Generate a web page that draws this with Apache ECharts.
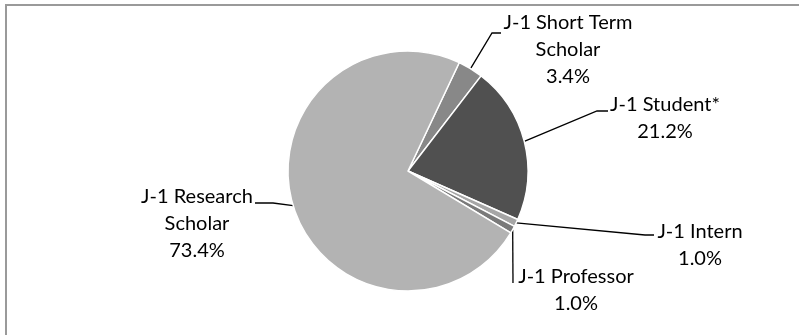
<!DOCTYPE html>
<html>
<head>
<meta charset="utf-8">
<title>J-1 Categories</title>
<script src="https://cdn.jsdelivr.net/npm/echarts@6/dist/echarts.min.js"></script>
<style>
  html, body { margin: 0; padding: 0; background: #ffffff; }
  #chart { width: 799px; height: 335px; }
</style>
</head>
<body>
<div id="chart"></div>
<script>
// Exchange visitor categories and their share of the total (percent)
const categories = [
  'J-1 Short Term\nScholar',
  'J-1 Student*',
  'J-1 Intern',
  'J-1 Professor',
  'J-1 Research\nScholar'
];
const shares = [3.4, 21.2, 1.0, 1.0, 73.4];
const sliceColors = ['#888888', '#505050', '#a6a6a6', '#7a7a7a', '#b3b3b3'];

// Label placement: centre of each text block, plus leader elbow and end point
const labelLayoutSpec = [
  { x: 568, y: 50,    elbow: [492, 33],  end: [501, 33] },
  { x: 665, y: 118.5, elbow: [597, 111], end: [608, 111] },
  { x: 700, y: 245,   elbow: [645, 235], end: [654, 235] },
  { x: 576, y: 290,   elbow: [513, 283], end: [513, 283] },
  { x: 197, y: 224,   elbow: [273, 203], end: [255, 203] }
];

const chart = echarts.init(document.getElementById('chart'), null, { renderer: 'canvas' });

chart.setOption({
  backgroundColor: '#ffffff',
  animation: false,
  graphic: [{
    type: 'rect',
    shape: { x: 6, y: 5, width: 900, height: 500 },
    style: { fill: 'none', stroke: '#9a9a9a', lineWidth: 2 },
    silent: true
  }],
  series: [{
    type: 'pie',
    center: [408, 171],
    radius: 120,
    startAngle: 64.7,
    clockwise: true,
    avoidLabelOverlap: false,
    itemStyle: { borderColor: '#ffffff', borderWidth: 1.5 },
    data: categories.map((name, i) => ({
      name: name,
      value: shares[i],
      itemStyle: { color: sliceColors[i] }
    })),
    label: {
      show: true,
      position: 'outside',
      formatter: p => p.name + '\n' + p.value.toFixed(1) + '%',
      fontFamily: 'Lato',
      fontSize: 20,
      lineHeight: 27,
      color: '#000000',
      align: 'center'
    },
    labelLine: {
      show: true,
      length: 10,
      length2: 10,
      lineStyle: { color: '#000000', width: 1.3 }
    },
    labelLayout: function (params) {
      const spec = labelLayoutSpec[params.dataIndex];
      const anchor = params.labelLinePoints ? params.labelLinePoints[0] : spec.elbow;
      return {
        x: spec.x,
        y: spec.y,
        align: 'center',
        verticalAlign: 'middle',
        labelLinePoints: [anchor, spec.elbow, spec.end]
      };
    },
    emphasis: { disabled: true }
  }]
});
</script>
</body>
</html>
